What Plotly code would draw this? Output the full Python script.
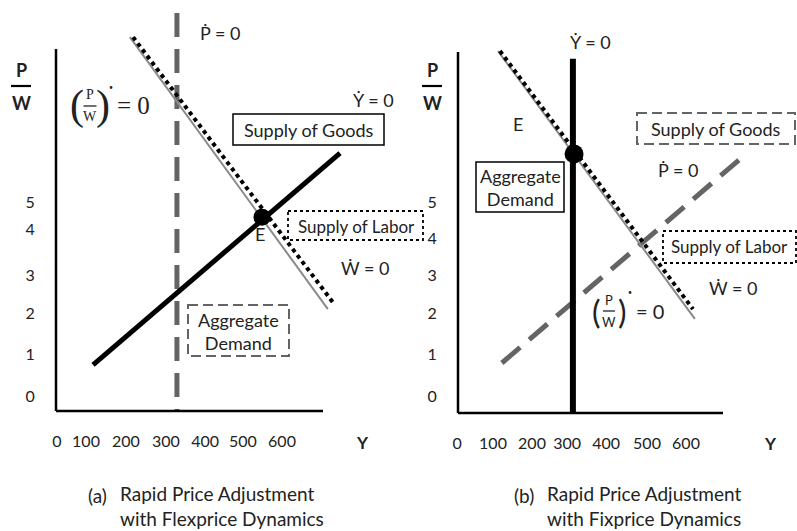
import plotly.graph_objects as go

W, H = 797, 531
FONT = "Lato"
SERIF = "Liberation Serif"

# ---------------- data (Y = output, PW = P/W) ----------------
# Panel (a): Rapid price adjustment with flexprice dynamics
a_pdot_Y = [332, 332];  a_pdot_PW = [9.87, -0.39]     # Ṗ = 0 (aggregate demand), dashed
a_pw_Y = [212, 717];    a_pw_PW = [9.25, 2.24]        # (P/W)˙ = 0, thin gray
a_wdot_Y = [220, 733];  a_wdot_PW = [9.25, 2.37]      # Ẇ = 0 (supply of labor), dotted
a_ydot_Y = [118, 748];  a_ydot_PW = [0.80, 6.26]      # Ẏ = 0 (supply of goods), solid
a_E_Y = [549];          a_E_PW = [4.61]

# Panel (b): Rapid price adjustment with fixprice dynamics
b_ydot_Y = [307, 307];  b_ydot_PW = [8.69, -0.44]     # Ẏ = 0 (aggregate demand), thick
b_pw_Y = [113, 623];    b_pw_PW = [8.89, 1.99]        # (P/W)˙ = 0, thin gray
b_wdot_Y = [118, 618];  b_wdot_PW = [8.89, 2.24]      # Ẇ = 0 (supply of labor), dotted
b_pdot_Y = [123, 758];  b_pdot_PW = [0.85, 6.26]      # Ṗ = 0 (supply of goods), dashed
b_E_Y = [310];          b_E_PW = [6.24]

x_ticktext = ["0", "100", "200", "300", "400", "500", "600"]
y_ticktext = ["0", "1", "2", "3", "4", "5"]

# ---------------- scale set-up (pixel geometry of each panel) ----------------
# panel a: px = XA0 + KXA*Y ; panel b: px = XB0 + KXB*Y ; py = Y0 - KY*PW
XA0, KXA = 46.8, 0.392
XB0, KXB = 454.4, 0.386
Y0, KY = 396.0, 38.8
SPLIT = 398.5

a_xtickvals = [26, 100, 202, 304, 404, 500, 600]
b_xtickvals = [7, 100, 201, 292, 393, 499, 600]
a_ytickvals = [0, 1.08, 2.14, 3.12, 4.30, 5.0]
b_ytickvals = [0, 1.08, 2.14, 3.12, 4.07, 5.0]

fig = go.Figure()

DARK = "#646464"
LIGHT = "#8a8a8a"


def line(xs, ys, ax, color, width, dash="solid"):
    fig.add_trace(go.Scatter(x=xs, y=ys, mode="lines", xaxis=ax[0], yaxis=ax[1],
                             line=dict(color=color, width=width, dash=dash),
                             hoverinfo="skip", showlegend=False))


A = ("x", "y")
B = ("x2", "y2")

# panel a
line(a_pdot_Y, a_pdot_PW, A, DARK, 5, "24px,12px")
line(a_pw_Y, a_pw_PW, A, LIGHT, 2)
line(a_wdot_Y, a_wdot_PW, A, "black", 4, "4px,3.8px")
line(a_ydot_Y, a_ydot_PW, A, "black", 5)
fig.add_trace(go.Scatter(x=a_E_Y, y=a_E_PW, mode="markers", xaxis="x", yaxis="y",
                         marker=dict(color="black", size=17), hoverinfo="skip", showlegend=False))

# panel b
line(b_pdot_Y, b_pdot_PW, B, DARK, 5, "24px,12px")
line(b_pw_Y, b_pw_PW, B, LIGHT, 2)
line(b_wdot_Y, b_wdot_PW, B, "black", 4, "4px,3.8px")
line(b_ydot_Y, b_ydot_PW, B, "black", 6)
fig.add_trace(go.Scatter(x=b_E_Y, y=b_E_PW, mode="markers", xaxis="x2", yaxis="y2",
                         marker=dict(color="black", size=19), hoverinfo="skip", showlegend=False))


# ---------------- helpers in pixel space for decorations ----------------
def px(x):
    return x / W


def py(y):
    return 1 - y / H


shapes = []
annots = []


def seg(x0, y0, x1, y1, color="black", width=2, dash="solid"):
    shapes.append(dict(type="line", xref="paper", yref="paper", x0=px(x0), y0=py(y0),
                       x1=px(x1), y1=py(y1), line=dict(color=color, width=width, dash=dash)))


def box(x0, y0, x1, y1, color="black", width=1.5, dash="solid"):
    shapes.append(dict(type="rect", xref="paper", yref="paper", x0=px(x0), y0=py(y0),
                       x1=px(x1), y1=py(y1), line=dict(color=color, width=width, dash=dash),
                       fillcolor="rgba(0,0,0,0)"))


def text(x, y, s, size=17, family=FONT, xanchor="center", yanchor="middle", color="#222",
         align="center", pad=1):
    annots.append(dict(xref="paper", yref="paper", x=px(x), y=py(y), text=s, showarrow=False,
                       xanchor=xanchor, yanchor=yanchor, align=align, borderpad=pad,
                       font=dict(family=family, size=size, color=color)))


def frac_dot(x, y, family, big, small, eq, bar_w, gap):
    # ( P/W )˙ = 0 built from pieces
    text(x, y, "(", size=big, family=family)
    text(x + gap, y - 11, "P", size=small, family=family)
    text(x + gap, y + 11, "W", size=small, family=family)
    seg(x + gap - bar_w / 2, y, x + gap + bar_w / 2, y, color="#222", width=1.3)
    text(x + 2 * gap, y, ")", size=big, family=family)
    text(x + 2 * gap + 8, y - 19, "•", size=7, family=FONT, color="#222")
    text(x + 2 * gap + 12, y, "= 0", size=eq, family=family, xanchor="left")


# axis lines (drawn as segments)
seg(56, 49, 56, 411, width=2.5)
seg(56, 411, 323, 411, width=2.5)
seg(458, 52, 458, 413, width=2.5)
seg(458, 413, 723, 413, width=2.5)

# axis titles
for xc in (21, 432):
    text(xc, 70, "<b>P</b>", size=18)
    seg(xc - 10, 86, xc + 10, 86, width=2.2)
    text(xc, 103, "<b>W</b>", size=18)
text(362, 442, "<b>Y</b>", size=17)
text(770, 443, "<b>Y</b>", size=17)

# ---- panel a labels ----
text(220, 33, "Ṗ = 0", size=18)
frac_dot(77, 106, SERIF, 42, 14, 25, 13, 13)
text(373, 100, "Ẏ = 0", size=18)
box(233, 114, 384, 145)
text(308.5, 130, "Supply of Goods", size=18)
box(288, 211, 423, 240, width=1.8, dash="dot")
text(356, 226, "Supply of Labor", size=17)
text(260, 234, "E", size=18)
text(365, 268, "Ẇ = 0", size=18)
box(188, 305, 289, 356, color=DARK, width=2, dash="10px,5px")
text(238.5, 331, "Aggregate<br>Demand", size=18)

# ---- panel b labels ----
text(590, 42, "Ẏ = 0", size=18)
text(518, 124, "E", size=18)
box(637, 113, 795, 144, color=DARK, width=2, dash="10px,5px")
text(716, 129, "Supply of Goods", size=18)
box(476, 162, 564, 212, width=1.5)
text(520, 187, "Aggregate<br>Demand", size=18)
text(678, 170, "Ṗ = 0", size=18)
box(663, 231, 796, 263, width=1.8, dash="dot")
text(729, 247, "Supply of Labor", size=17)
text(733, 288, "Ẇ = 0", size=18)
frac_dot(596, 311, FONT, 32, 13, 20, 12, 13)

# captions
CAP = 19
text(87, 495, "(a)", size=CAP, xanchor="left", pad=0)
text(119, 530.5, "Rapid Price Adjustment<br>with Flexprice Dynamics", size=CAP,
     xanchor="left", yanchor="bottom", align="left", pad=0)
text(513, 495, "(b)", size=CAP, xanchor="left", pad=0)
text(546, 530.5, "Rapid Price Adjustment<br>with Fixprice Dynamics", size=CAP,
     xanchor="left", yanchor="bottom", align="left", pad=0)

tickfont = dict(family=FONT, size=16, color="#222")
common_x = dict(showgrid=False, zeroline=False, showline=False, ticks="outside", ticklen=0,
                tickcolor="rgba(0,0,0,0)", tickfont=tickfont, anchor="free", fixedrange=True,
                ticklabelstandoff=16)
common_y = dict(showgrid=False, zeroline=False, showline=False, ticks="outside", ticklen=0,
                tickcolor="rgba(0,0,0,0)", tickfont=tickfont, anchor="free", fixedrange=True,
                ticklabelstandoff=18)

fig.update_layout(
    width=W, height=H, margin=dict(l=0, r=0, t=0, b=0),
    paper_bgcolor="white", plot_bgcolor="rgba(0,0,0,0)",
    xaxis=dict(common_x, domain=[0, SPLIT / W],
               range=[(0 - XA0) / KXA, (SPLIT - XA0) / KXA],
               tickvals=a_xtickvals, ticktext=x_ticktext, position=1 - 411 / H),
    yaxis=dict(common_y, domain=[0, 1], range=[(Y0 - H) / KY, Y0 / KY],
               tickvals=a_ytickvals, ticktext=y_ticktext, position=56 / W),
    xaxis2=dict(common_x, domain=[SPLIT / W, 1],
                range=[(SPLIT - XB0) / KXB, (W - XB0) / KXB],
                tickvals=b_xtickvals, ticktext=x_ticktext, position=1 - 413 / H),
    yaxis2=dict(common_y, domain=[0, 1], range=[(Y0 - H) / KY, Y0 / KY],
                tickvals=b_ytickvals, ticktext=y_ticktext, position=458 / W),
    shapes=shapes, annotations=annots, showlegend=False,
)

fig.write_html("out.html", config={"displayModeBar": False},
               post_script="document.body.style.margin='0px';")
